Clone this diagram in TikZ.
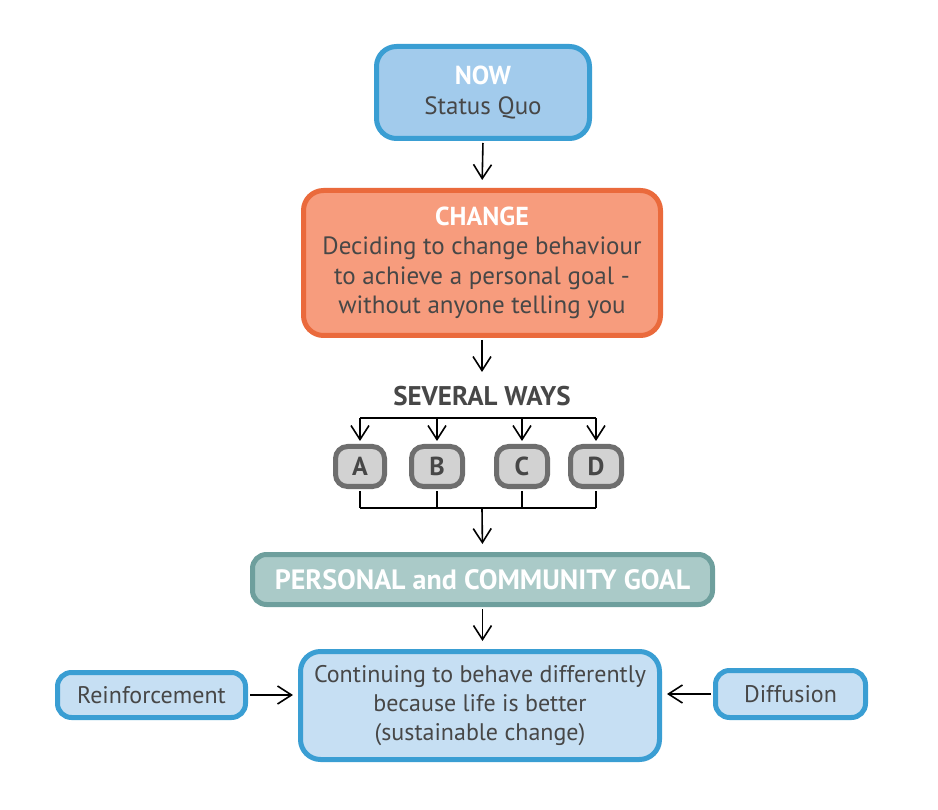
\documentclass[tikz,border=0pt]{standalone}
\usepackage{fontspec}
\setmainfont{PT Sans}
\usetikzlibrary{arrows.meta,positioning}
\definecolor{bluebd}{HTML}{3A9ED3}
\definecolor{bluefill}{HTML}{A2CBEC}
\definecolor{lbluefill}{HTML}{C6DFF3}
\definecolor{orbd}{HTML}{EA6A3C}
\definecolor{orfill}{HTML}{F79C7D}
\definecolor{graybd}{HTML}{6E6E6E}
\definecolor{grayfill}{HTML}{D2D2D2}
\definecolor{tealbd}{HTML}{6E9F9D}
\definecolor{tealfill}{HTML}{AACAC8}
\definecolor{txt}{HTML}{474747}
\tikzset{
  box/.style={draw, line width=5pt, rounded corners=20pt, align=center, text=txt,
    font=\fontsize{25}{29.5}\selectfont, inner sep=0pt},
  bluebox/.style={box, draw=bluebd, fill=bluefill},
  lbluebox/.style={box, draw=bluebd, fill=lbluefill, font=\fontsize{24}{29}\selectfont},
  orbox/.style={box, draw=orbd, fill=orfill},
  graybox/.style={box, draw=graybd, fill=grayfill, rounded corners=12pt, font=\fontsize{26}{28}\selectfont\bfseries},
  tealbox/.style={box, draw=tealbd, fill=tealfill, rounded corners=14pt, text=white, font=\fontsize{28}{30}\selectfont\bfseries},
  conn/.style={line width=1.6pt, black},
  arr/.style={conn, -{Straight Barb[length=14pt,width=18pt,line width=1.6pt]}},
}
\begin{document}
\begin{tikzpicture}[x=1pt,y=-1pt]
\useasboundingbox (0,0) rectangle (938,810);
\node[bluebox, minimum width=213pt, minimum height=92pt] (now) at (483,92.5)
  {{\fontsize{26}{29.5}\selectfont\color{white}\bfseries NOW}\\Status Quo};
\node[orbox, minimum width=357pt, minimum height=145pt] (change) at (482,263)
  {{\fontsize{26}{29.5}\selectfont\color{white}\bfseries CHANGE}\\Deciding to change behaviour\\to achieve a personal goal -\\without anyone telling you};
\node[text=txt, font=\fontsize{27}{30}\selectfont\bfseries] (ways) at (482,396) {SEVERAL WAYS};
\coordinate (wtop) at (482,372);
\node[graybox, minimum width=49pt, minimum height=40pt] (A) at (360,466.5) {A};
\node[graybox, minimum width=51pt, minimum height=40pt] (B) at (437,466.5) {B};
\node[graybox, minimum width=51pt, minimum height=40pt] (C) at (522,466.5) {C};
\node[graybox, minimum width=51pt, minimum height=40pt] (D) at (596,466.5) {D};
\node[tealbox, minimum width=460pt, minimum height=50pt] (goal) at (482.5,579.5)
  {PERSONAL and COMMUNITY GOAL};
\node[lbluebox, minimum width=359pt, minimum height=108pt] (cont) at (480,705.5)
  {Continuing to behave differently\\because life is better\\(sustainable change)};
\node[lbluebox, rounded corners=14pt, minimum width=188pt, minimum height=45pt] (reinf) at (151.5,695) {Reinforcement};
\node[lbluebox, rounded corners=14pt, minimum width=150pt, minimum height=47pt] (diff) at (790.5,694) {Diffusion};
% connectors
\draw[arr, shorten <=2pt, shorten >=8pt] (now.south) -- (change.north);
\draw[arr, shorten <=2pt] (change.south) -- (wtop);
\coordinate (fA) at (A.north |- 0,418);
\coordinate (fB) at (B.north |- 0,418);
\coordinate (fC) at (C.north |- 0,418);
\coordinate (fD) at (D.north |- 0,418);
\draw[conn] (fA) -- (fD);
\foreach \n in {A,B,C,D} \draw[arr, shorten >=3pt] (f\n) -- (\n.north);
\coordinate (bA) at (A.south |- 0,508);
\coordinate (bB) at (B.south |- 0,508);
\coordinate (bC) at (C.south |- 0,508);
\coordinate (bD) at (D.south |- 0,508);
\coordinate (bM) at (482,508);
\foreach \n in {A,B,C,D} \draw[conn, shorten <=2pt] (\n.south) -- (b\n);
\draw[conn] (bA) -- (bD);
\draw[arr, shorten >=8pt] (bM) -- (goal.north);
\draw[arr, shorten <=2pt, shorten >=8pt] (goal.south) -- (cont.north -| goal.south);
\draw[arr, shorten <=2pt, shorten >=5pt] (reinf.east) -- (reinf.east -| cont.west);
\draw[arr, shorten <=2pt, shorten >=5pt] (diff.west) -- (diff.west -| cont.east);
\end{tikzpicture}
\end{document}
